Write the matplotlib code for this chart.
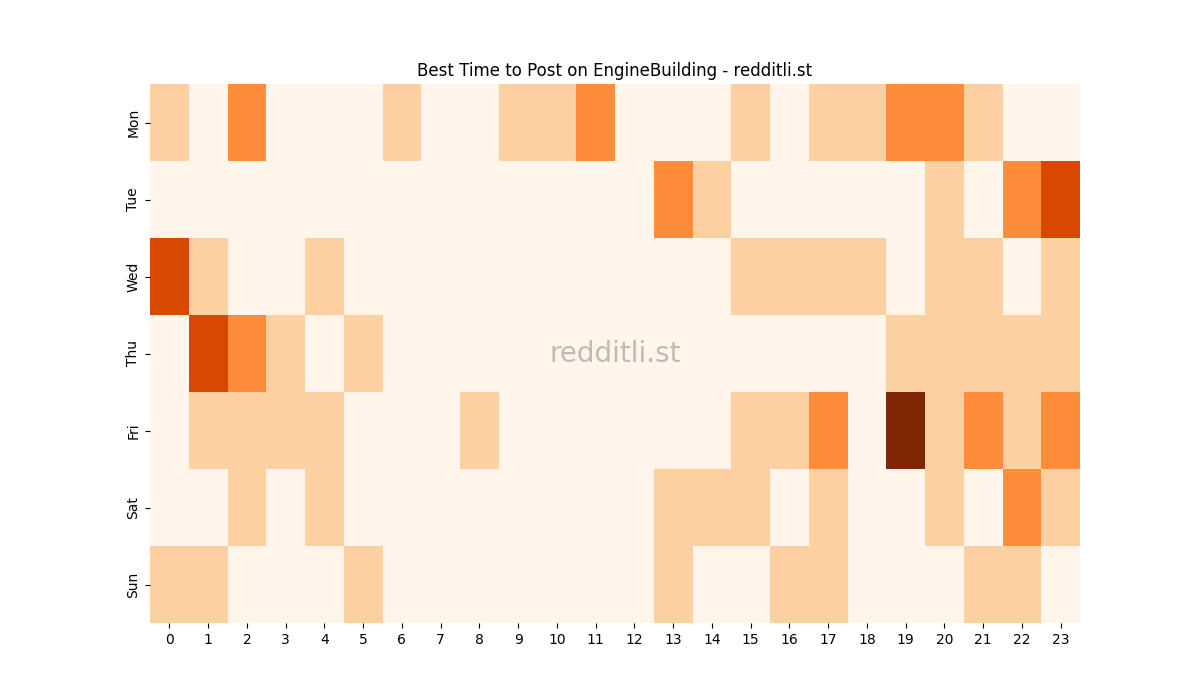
import matplotlib
matplotlib.use('Agg')
import matplotlib.pyplot as plt
import seaborn as sns
import pandas as pd

days = ['Mon', 'Tue', 'Wed', 'Thu', 'Fri', 'Sat', 'Sun']
hours = list(range(24))

mon = [1, 0, 2, 0, 0, 0, 1, 0, 0, 1, 1, 2, 0, 0, 0, 1, 0, 1, 1, 2, 2, 1, 0, 0]
tue = [0, 0, 0, 0, 0, 0, 0, 0, 0, 0, 0, 0, 0, 2, 1, 0, 0, 0, 0, 0, 1, 0, 2, 3]
wed = [3, 1, 0, 0, 1, 0, 0, 0, 0, 0, 0, 0, 0, 0, 0, 1, 1, 1, 1, 0, 1, 1, 0, 1]
thu = [0, 3, 2, 1, 0, 1, 0, 0, 0, 0, 0, 0, 0, 0, 0, 0, 0, 0, 0, 1, 1, 1, 1, 1]
fri = [0, 1, 1, 1, 1, 0, 0, 0, 1, 0, 0, 0, 0, 0, 0, 1, 1, 2, 0, 4, 1, 2, 1, 2]
sat = [0, 0, 1, 0, 1, 0, 0, 0, 0, 0, 0, 0, 0, 1, 1, 1, 0, 1, 0, 0, 1, 0, 2, 1]
sun = [1, 1, 0, 0, 0, 1, 0, 0, 0, 0, 0, 0, 0, 1, 0, 0, 1, 1, 0, 0, 0, 1, 1, 0]

df = pd.DataFrame([mon, tue, wed, thu, fri, sat, sun], index=days, columns=hours)

fig, ax = plt.subplots(figsize=(12, 7), dpi=100)
sns.heatmap(df, cmap='Oranges', vmin=0, vmax=4, cbar=False, ax=ax)
ax.set_title('Best Time to Post on EngineBuilding - redditli.st')
ax.text(0.5, 0.5, 'redditli.st', transform=ax.transAxes, ha='center', va='center',
        fontsize=20, color='gray', alpha=0.5)
ax.tick_params(axis='x', rotation=0)
plt.savefig('out.png', dpi=100)
